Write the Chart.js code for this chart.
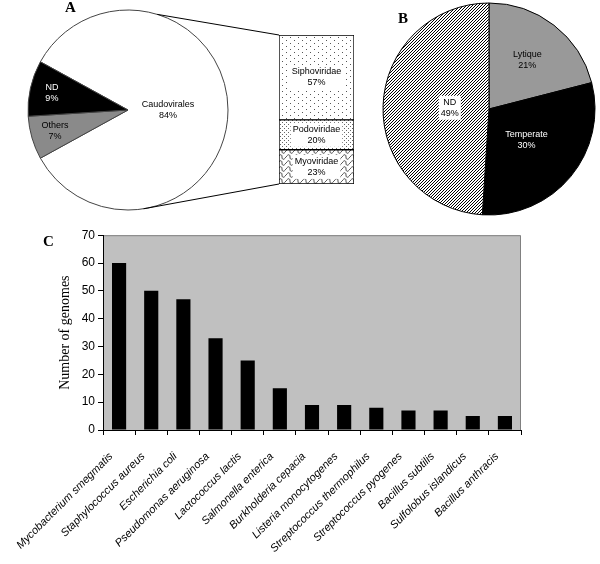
<!DOCTYPE html>
<html>
<head>
<meta charset="utf-8">
<script src="https://cdn.jsdelivr.net/npm/chart.js@4.4.0/dist/chart.umd.min.js"></script>
<style>
  html, body { margin: 0; padding: 0; background: #fff; }
  #page { position: relative; width: 600px; height: 564px; overflow: hidden; }
  .panel { position: absolute; }
  .panel canvas { display: block; }
  .tag { position: absolute; font: bold 15px "Liberation Serif", "Times New Roman", serif; line-height: 15px; }
</style>
</head>
<body>
<div id="page">
  <div class="panel" style="left:0;top:0"><canvas id="pieA" width="360" height="220"></canvas></div>
  <div class="panel" style="left:278px;top:34px"><canvas id="barA" width="77" height="151"></canvas></div>
  <div class="panel" style="left:379px;top:0"><canvas id="pieB" width="220" height="218"></canvas></div>
  <div class="panel" style="left:0;top:225px"><canvas id="barC" width="600" height="339"></canvas></div>
  <div class="tag" style="left:65px;top:0">A</div>
  <div class="tag" style="left:398px;top:11px">B</div>
  <div class="tag" style="left:43px;top:234px">C</div>
</div>
<script>
// Panel A: viral orders, and the split of Caudovirales into families
const orderLabels = ["Caudovirales", "Others", "ND"];
const orderShares = [84, 7, 9];
// families, bottom of the stack first
const familyLabels = ["Myoviridae", "Podoviridae", "Siphoviridae"];
const familyShares = [23, 20, 57];

// Panel B: life cycle
const cycleLabels = ["Lytique", "Temperate", "ND"];
const cycleShares = [21, 30, 49];

// Panel C: genomes per host
const hostLabels = [
  "Mycobacterium smegmatis", "Staphylococcus aureus", "Escherichia coli",
  "Pseudomonas aeruginosa", "Lactococcus lactis", "Salmonella enterica",
  "Burkholderia cepacia", "Listeria monocytogenes", "Streptococcus thermophilus",
  "Streptococcus pyogenes", "Bacillus subtilis", "Sulfolobus islandicus",
  "Bacillus anthracis"
];
const genomeCounts = [60, 50, 47, 33, 25, 15, 9, 9, 8, 7, 7, 5, 5];
const genomeAxis = { min: 0, max: 70, step: 10 };

const SANS = "'Liberation Sans', Arial, sans-serif";
const SERIF = "'Liberation Serif', 'Times New Roman', serif";

function makePattern(w, h, draw) {
  const tile = document.createElement("canvas");
  tile.width = w;
  tile.height = h;
  const g = tile.getContext("2d");
  g.fillStyle = "#fff";
  g.fillRect(0, 0, w, h);
  draw(g);
  return g.createPattern(tile, "repeat");
}

const sparseDots = makePattern(8, 6, g => {
  g.fillStyle = "#555";
  g.fillRect(0, 0, 1, 1);
  g.fillRect(4, 3, 1, 1);
});
const denseDots = makePattern(4, 4, g => {
  g.fillStyle = "#666";
  g.fillRect(0, 0, 1, 1);
  g.fillRect(2, 2, 1, 1);
});
const waves = makePattern(8, 6, g => {
  g.strokeStyle = "#222";
  g.lineWidth = 0.8;
  g.beginPath();
  g.moveTo(0, 3);
  g.bezierCurveTo(2, 0, 4, 0, 4, 3);
  g.bezierCurveTo(4, 6, 6, 6, 8, 3);
  g.stroke();
});
const hatch = makePattern(3, 3, g => {
  g.fillStyle = "#000";
  g.fillRect(0, 2, 1, 1);
  g.fillRect(1, 1, 1, 1);
  g.fillRect(2, 0, 1, 1);
});

function drawTwoLines(ctx, lines, cx, cy, color, boxed, lineH) {
  if (boxed) {
    const w = Math.max(...lines.map(t => ctx.measureText(t).width)) + 4;
    ctx.fillStyle = "#fff";
    ctx.fillRect(cx - w / 2, cy - lineH - 1, w, lineH * 2 + 2);
  }
  ctx.fillStyle = color;
  lines.forEach((t, k) => ctx.fillText(t, cx, cy + (k - 0.5) * lineH));
}

// labels placed along each slice's middle angle
function sliceLabels(cfg) {
  return {
    id: "sliceLabels",
    afterDatasetsDraw(chart) {
      const { ctx } = chart;
      const ds = chart.data.datasets[0];
      ctx.save();
      ctx.font = "9px " + SANS;
      ctx.textAlign = "center";
      ctx.textBaseline = "middle";
      chart.getDatasetMeta(0).data.forEach((arc, i) => {
        const p = arc.getProps(["x", "y", "startAngle", "endAngle", "outerRadius"], true);
        const mid = (p.startAngle + p.endAngle) / 2;
        const r = p.outerRadius * cfg.radius[i];
        const lines = [chart.data.labels[i], ds.data[i] + "%"];
        drawTwoLines(ctx, lines, p.x + Math.cos(mid) * r, p.y + Math.sin(mid) * r,
          cfg.color[i], cfg.boxed[i], 11);
      });
      ctx.restore();
    }
  };
}

const stackLabels = {
  id: "stackLabels",
  afterDatasetsDraw(chart) {
    const { ctx } = chart;
    ctx.save();
    ctx.font = "9px " + SANS;
    ctx.textAlign = "center";
    ctx.textBaseline = "middle";
    chart.data.datasets.forEach((ds, i) => {
      const bar = chart.getDatasetMeta(i).data[0];
      const p = bar.getProps(["x", "y", "base"], true);
      drawTwoLines(ctx, [ds.label, ds.data[0] + "%"], p.x, (p.y + p.base) / 2, "#000", true, 11);
    });
    ctx.restore();
  }
};

// ---- bar of pie (drawn first so the pie can reach it with its lines)
const familyCanvas = document.getElementById("barA");
const familyFills = [waves, denseDots, sparseDots];
const familyChart = new Chart(familyCanvas, {
  type: "bar",
  data: {
    labels: [""],
    datasets: familyLabels.map((label, i) => ({
      label,
      data: [familyShares[i]],
      backgroundColor: familyFills[i],
      borderColor: "#000",
      borderWidth: 1,
      borderSkipped: false,
      barPercentage: 1,
      categoryPercentage: 1
    }))
  },
  options: {
    responsive: false,
    animation: false,
    layout: { padding: 1 },
    plugins: { legend: { display: false }, tooltip: { enabled: false } },
    scales: {
      x: { stacked: true, display: false },
      y: { stacked: true, display: false, min: 0, max: 100 }
    }
  },
  plugins: [stackLabels]
});

const connectors = {
  id: "connectors",
  afterDraw(chart) {
    const { ctx } = chart;
    const arc = chart.getDatasetMeta(0).data[0];
    const box = familyChart.chartArea;
    const dx = familyCanvas.parentNode.offsetLeft - chart.canvas.parentNode.offsetLeft;
    const dy = familyCanvas.parentNode.offsetTop - chart.canvas.parentNode.offsetTop;
    const ends = [[-73, box.top], [81, box.bottom]];
    ctx.save();
    ctx.strokeStyle = "#000";
    ctx.lineWidth = 1;
    ends.forEach(([deg, by]) => {
      const a = deg * Math.PI / 180;
      ctx.beginPath();
      ctx.moveTo(arc.x + Math.cos(a) * arc.outerRadius, arc.y + Math.sin(a) * arc.outerRadius);
      ctx.lineTo(box.left + dx, by + dy);
      ctx.stroke();
    });
    ctx.restore();
  }
};

new Chart(document.getElementById("pieA"), {
  type: "pie",
  data: {
    labels: orderLabels,
    datasets: [{
      data: orderShares,
      backgroundColor: ["#fff", "#8a8a8a", "#000"],
      borderColor: "#444",
      borderWidth: 1,
      radius: 100,
      hoverOffset: 0
    }]
  },
  options: {
    responsive: false,
    animation: false,
    rotation: 298.8,
    layout: { padding: { right: 104 } },
    plugins: { legend: { display: false }, tooltip: { enabled: false } }
  },
  plugins: [sliceLabels({ radius: [0.4, 0.76, 0.78], color: ["#000", "#000", "#fff"], boxed: [false, false, false] }), connectors]
});

new Chart(document.getElementById("pieB"), {
  type: "pie",
  data: {
    labels: cycleLabels,
    datasets: [{
      data: cycleShares,
      backgroundColor: ["#999", "#000", hatch],
      borderColor: "#000",
      borderWidth: 1,
      radius: 106,
      hoverOffset: 0
    }]
  },
  options: {
    responsive: false,
    animation: false,
    plugins: { legend: { display: false }, tooltip: { enabled: false } }
  },
  plugins: [sliceLabels({ radius: [0.59, 0.46, 0.37], color: ["#000", "#fff", "#000"], boxed: [false, false, true] })]
});

// ---- panel C
const plotBackground = {
  id: "plotBackground",
  beforeDraw(chart) {
    const { ctx, chartArea: a } = chart;
    ctx.save();
    ctx.fillStyle = "#c0c0c0";
    ctx.fillRect(a.left, a.top, a.right - a.left, a.bottom - a.top);
    ctx.strokeStyle = "#808080";
    ctx.lineWidth = 1;
    ctx.beginPath();
    ctx.moveTo(a.left, a.top + 0.5);
    ctx.lineTo(a.right - 0.5, a.top + 0.5);
    ctx.lineTo(a.right - 0.5, a.bottom);
    ctx.stroke();
    ctx.restore();
  }
};

new Chart(document.getElementById("barC"), {
  type: "bar",
  data: {
    labels: hostLabels,
    datasets: [{
      data: genomeCounts,
      backgroundColor: "#000",
      borderWidth: 0,
      barPercentage: 0.44,
      categoryPercentage: 1
    }]
  },
  options: {
    responsive: false,
    animation: false,
    layout: { padding: { left: 0, right: 79, top: 10, bottom: 0 } },
    plugins: { legend: { display: false }, tooltip: { enabled: false } },
    scales: {
      x: {
        grid: { drawOnChartArea: false, tickLength: 5, color: "#000", offset: true },
        border: { color: "#000" },
        ticks: {
          autoSkip: false, minRotation: 45, maxRotation: 45, padding: 15, labelOffset: -8,
          color: "#000", font: { family: SANS, size: 11, style: "italic" }
        },
        afterFit: s => { s.height = 134; }
      },
      y: {
        min: genomeAxis.min,
        max: genomeAxis.max,
        ticks: { stepSize: genomeAxis.step, padding: 3, color: "#000", font: { family: SANS, size: 12 } },
        grid: { drawOnChartArea: false, tickLength: 5, color: "#000" },
        border: { color: "#000" },
        title: {
          display: true, text: "Number of genomes", color: "#000",
          font: { family: SERIF, size: 14 }, padding: { top: 57, bottom: 0 }
        },
        afterFit: s => { s.width = 103; }
      }
    }
  },
  plugins: [plotBackground]
});
</script>
</body>
</html>
